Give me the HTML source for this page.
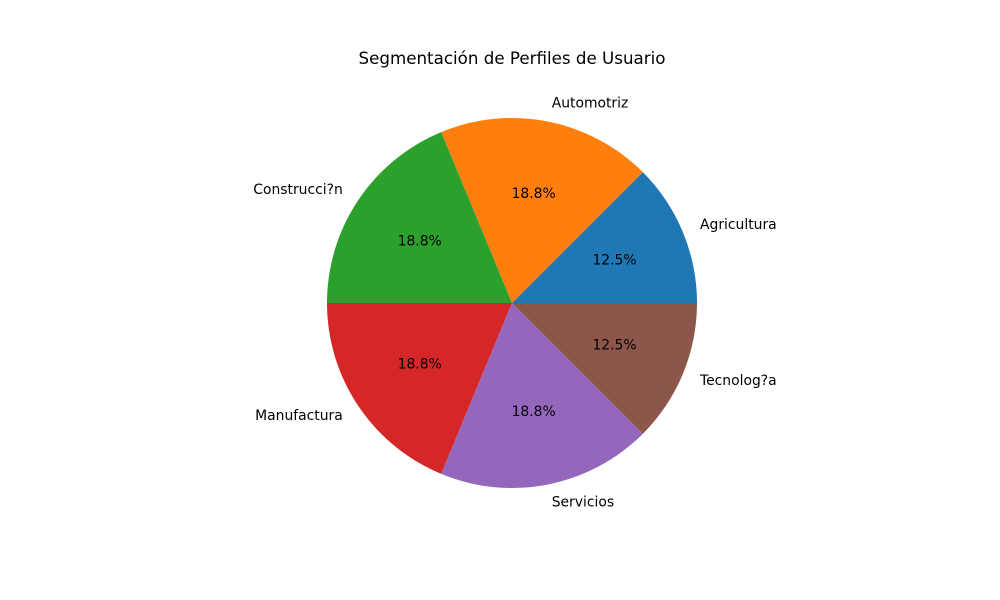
<!DOCTYPE html>
<html><head><meta charset="utf-8"><style>
body{margin:0;background:#fff}
svg{display:block;font-family:"DejaVu Sans",sans-serif}
</style></head><body>
<svg id="chart" width="1000" height="600">
<rect width="1000" height="600" fill="#fff"/>
<text x="512" y="64" text-anchor="middle" font-size="16.7" fill="#000">Segmentación de Perfiles de Usuario</text>
<g id="slices"></g>
</svg>
<script>
const categories = ["Agricultura","Automotriz","Construcci?n","Manufactura","Servicios","Tecnolog?a"];
const values = [2,3,3,3,3,2];
const colors = ["#1f77b4","#ff7f0e","#2ca02c","#d62728","#9467bd","#8c564b"];
const cx = 512, cy = 303, r = 185;
const total = values.reduce((a,b)=>a+b,0);
const g = document.getElementById('slices');
const ns = 'http://www.w3.org/2000/svg';
let start = 0;
function pt(a, rad){ return [cx + rad*Math.cos(a), cy - rad*Math.sin(a)]; }
values.forEach((v,i)=>{
  const sweep = v/total*2*Math.PI;
  const end = start + sweep;
  const [x1,y1] = pt(start,r), [x2,y2] = pt(end,r);
  const p = document.createElementNS(ns,'path');
  p.setAttribute('d',`M${cx},${cy} L${x1},${y1} A${r},${r} 0 ${sweep>Math.PI?1:0} 0 ${x2},${y2} Z`);
  p.setAttribute('fill',colors[i]);
  
  
  g.appendChild(p);
  const mid = start + sweep/2;
  const [lx,ly] = pt(mid, r*1.1);
  const t = document.createElementNS(ns,'text');
  t.setAttribute('x',lx); t.setAttribute('y',ly+4);
  t.setAttribute('font-size','13.9');
  t.setAttribute('text-anchor', Math.cos(mid)>=0?'start':'end');
  t.textContent = categories[i];
  
  
  g.appendChild(t);
  const [px,py] = pt(mid, r*0.6);
  const t2 = document.createElementNS(ns,'text');
  t2.setAttribute('x',px); t2.setAttribute('y',py+4);
  t2.setAttribute('font-size','13.9');
  t2.setAttribute('text-anchor','middle');
  t2.textContent = (v/total*100).toFixed(1)+'%';
  
  
  g.appendChild(t2);
  start = end;
});
</script>
</body></html>
